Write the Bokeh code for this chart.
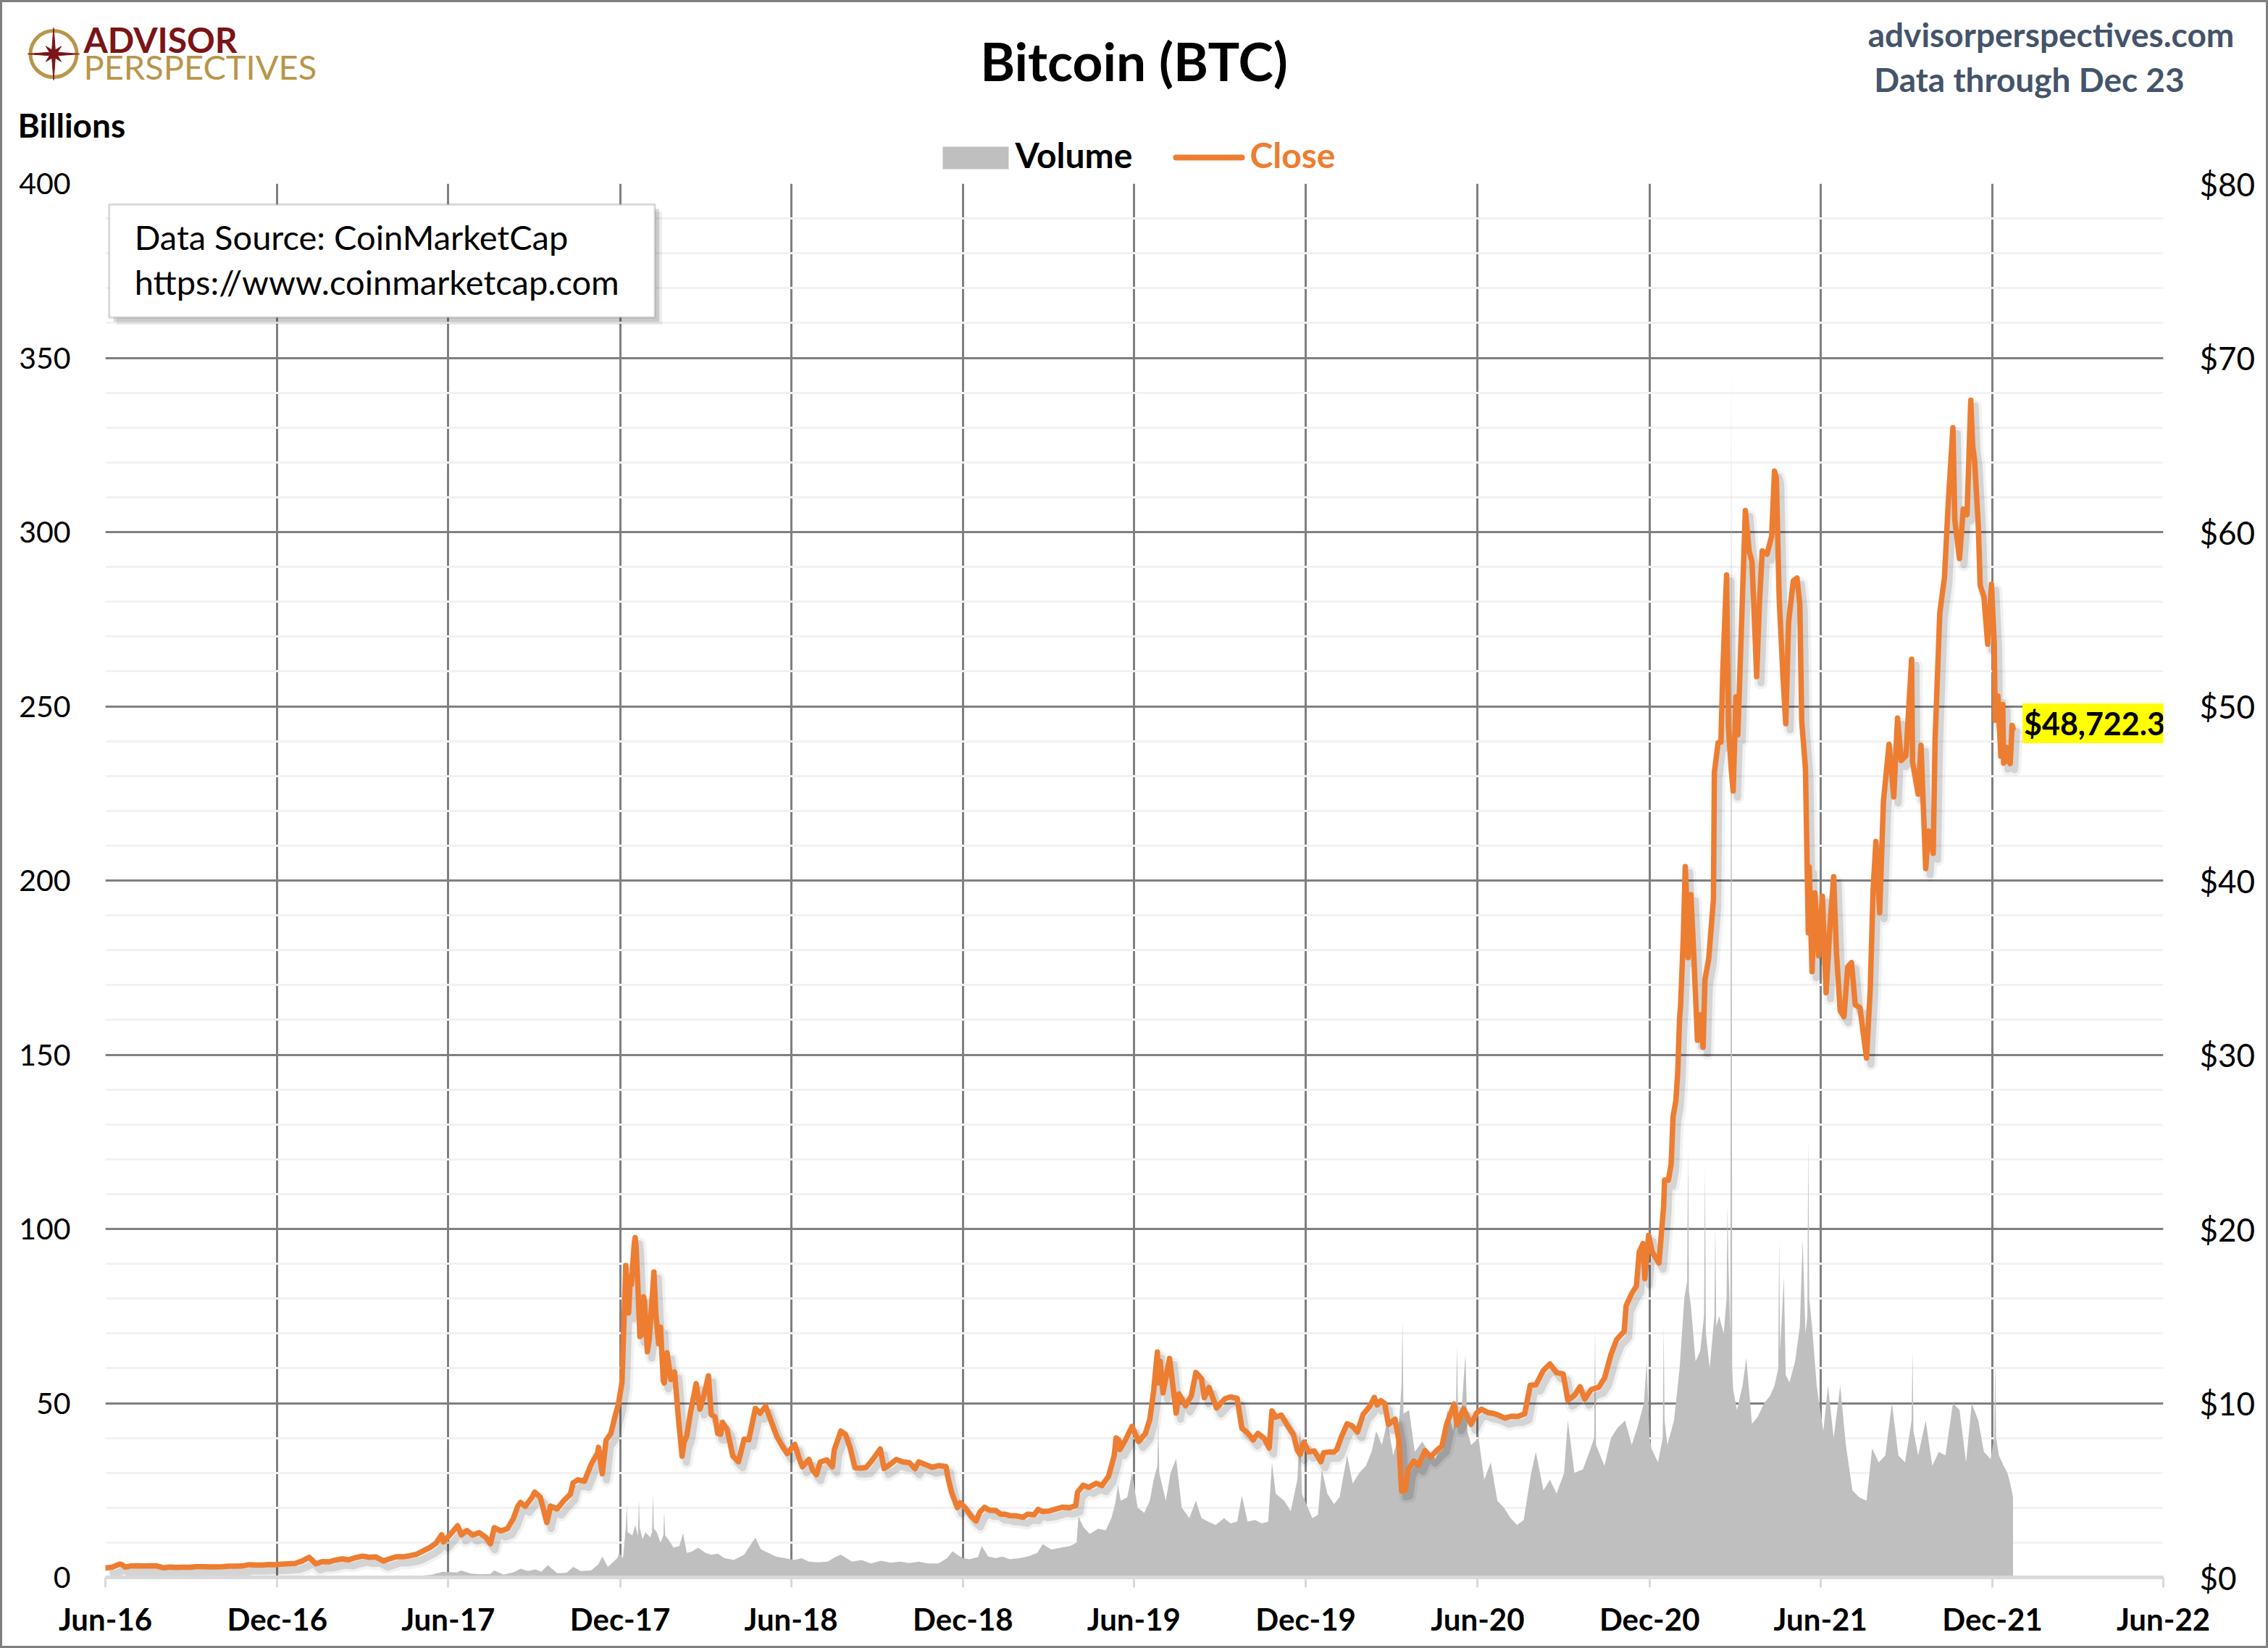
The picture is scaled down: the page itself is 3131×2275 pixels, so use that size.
import numpy as np
import pandas as pd
from bokeh.plotting import figure
from bokeh.models import (Range1d, LinearAxis, FixedTicker, SingleIntervalTicker,
                          PrintfTickFormatter, DatetimeTickFormatter, Label, BoxAnnotation)
from bokeh.embed import file_html
from bokeh.resources import INLINE
from bokeh.core.properties import value

# ---------------- data ----------------
tick_dates = ["2016-06-01", "2016-12-01", "2017-06-01", "2017-12-01", "2018-06-01",
              "2018-12-01", "2019-06-01", "2019-12-01", "2020-06-01", "2020-12-01",
              "2021-06-01", "2021-12-01", "2022-06-01"]
tick_labels = ["Jun-16", "Dec-16", "Jun-17", "Dec-17", "Jun-18", "Dec-18", "Jun-19",
               "Dec-19", "Jun-20", "Dec-20", "Jun-21", "Dec-21", "Jun-22"]

# Close price, thousands of US$
close_2016 = [("2016-06-01", 0.54), ("2016-06-08", 0.58), ("2016-06-12", 0.67), ("2016-06-16", 0.76),
              ("2016-06-18", 0.75), ("2016-06-22", 0.59), ("2016-06-28", 0.65), ("2016-07-05", 0.67),
              ("2016-07-12", 0.66), ("2016-07-19", 0.67), ("2016-07-26", 0.65), ("2016-08-02", 0.55),
              ("2016-08-09", 0.59), ("2016-08-16", 0.57), ("2016-08-23", 0.58), ("2016-08-30", 0.58),
              ("2016-09-06", 0.61), ("2016-09-13", 0.61), ("2016-09-20", 0.60), ("2016-09-27", 0.60),
              ("2016-10-04", 0.61), ("2016-10-11", 0.64), ("2016-10-18", 0.64), ("2016-10-25", 0.65),
              ("2016-11-01", 0.73), ("2016-11-08", 0.71), ("2016-11-15", 0.71), ("2016-11-22", 0.74),
              ("2016-11-29", 0.73), ("2016-12-06", 0.76), ("2016-12-13", 0.78), ("2016-12-20", 0.80),
              ("2016-12-27", 0.93)]
close_2017 = [("2017-01-04", 1.15), ("2017-01-11", 0.78), ("2017-01-18", 0.90), ("2017-01-25", 0.89),
              ("2017-02-01", 0.99), ("2017-02-08", 1.06), ("2017-02-15", 1.01), ("2017-02-22", 1.13),
              ("2017-03-02", 1.22), ("2017-03-09", 1.15), ("2017-03-16", 1.17), ("2017-03-24", 0.94),
              ("2017-03-31", 1.07), ("2017-04-07", 1.19), ("2017-04-14", 1.18), ("2017-04-21", 1.24),
              ("2017-04-28", 1.32), ("2017-05-05", 1.51), ("2017-05-12", 1.70), ("2017-05-19", 1.96),
              ("2017-05-25", 2.45), ("2017-05-27", 2.04), ("2017-06-04", 2.52), ("2017-06-11", 2.96),
              ("2017-06-15", 2.44), ("2017-06-21", 2.69), ("2017-06-27", 2.43), ("2017-07-04", 2.57),
              ("2017-07-11", 2.30), ("2017-07-16", 1.93), ("2017-07-20", 2.85), ("2017-07-27", 2.67),
              ("2017-08-03", 2.79), ("2017-08-09", 3.34), ("2017-08-14", 4.08), ("2017-08-17", 4.30),
              ("2017-08-22", 4.08), ("2017-08-29", 4.58), ("2017-09-01", 4.89), ("2017-09-07", 4.60),
              ("2017-09-14", 3.15), ("2017-09-18", 4.09), ("2017-09-25", 3.93), ("2017-10-02", 4.40),
              ("2017-10-09", 4.77), ("2017-10-12", 5.43), ("2017-10-17", 5.60), ("2017-10-24", 5.52),
              ("2017-10-31", 6.47), ("2017-11-07", 7.14), ("2017-11-08", 7.46), ("2017-11-12", 5.95),
              ("2017-11-16", 7.87), ("2017-11-21", 8.24), ("2017-11-26", 9.33), ("2017-11-29", 9.89),
              ("2017-12-03", 11.20), ("2017-12-07", 17.90), ("2017-12-08", 16.57), ("2017-12-10", 15.18),
              ("2017-12-12", 17.28), ("2017-12-13", 16.81), ("2017-12-16", 19.14), ("2017-12-17", 19.50),
              ("2017-12-18", 18.97), ("2017-12-20", 16.64), ("2017-12-22", 13.83), ("2017-12-24", 13.93),
              ("2017-12-26", 16.10), ("2017-12-27", 15.84), ("2017-12-30", 12.95)]
close_2018 = [("2018-01-01", 13.66), ("2018-01-06", 17.53), ("2018-01-08", 15.17), ("2018-01-11", 13.41),
              ("2018-01-13", 14.36), ("2018-01-16", 11.28), ("2018-01-17", 11.16), ("2018-01-20", 12.89),
              ("2018-01-24", 11.36), ("2018-01-28", 11.79), ("2018-02-01", 9.17), ("2018-02-05", 6.96),
              ("2018-02-07", 7.75), ("2018-02-10", 8.13), ("2018-02-14", 9.49), ("2018-02-20", 11.12),
              ("2018-02-24", 9.66), ("2018-02-28", 10.40), ("2018-03-05", 11.57), ("2018-03-08", 9.34),
              ("2018-03-12", 9.21), ("2018-03-15", 8.25), ("2018-03-18", 8.22), ("2018-03-20", 8.90),
              ("2018-03-25", 8.47), ("2018-03-31", 6.97), ("2018-04-06", 6.64), ("2018-04-12", 7.93),
              ("2018-04-17", 7.90), ("2018-04-24", 9.70), ("2018-04-29", 9.42), ("2018-05-05", 9.82),
              ("2018-05-10", 9.08), ("2018-05-17", 8.07), ("2018-05-23", 7.51), ("2018-05-28", 7.11),
              ("2018-06-05", 7.63), ("2018-06-10", 6.78), ("2018-06-13", 6.35), ("2018-06-20", 6.77),
              ("2018-06-24", 6.15), ("2018-06-28", 5.90), ("2018-07-02", 6.62), ("2018-07-09", 6.74),
              ("2018-07-15", 6.35), ("2018-07-17", 7.32), ("2018-07-24", 8.40), ("2018-07-29", 8.20),
              ("2018-08-03", 7.42), ("2018-08-08", 6.30), ("2018-08-14", 6.27), ("2018-08-20", 6.31),
              ("2018-08-26", 6.70), ("2018-09-04", 7.37), ("2018-09-08", 6.25), ("2018-09-15", 6.50),
              ("2018-09-21", 6.77), ("2018-09-28", 6.63), ("2018-10-05", 6.58), ("2018-10-11", 6.24),
              ("2018-10-15", 6.63), ("2018-10-22", 6.48), ("2018-10-29", 6.32), ("2018-11-05", 6.41),
              ("2018-11-13", 6.36), ("2018-11-15", 5.74), ("2018-11-19", 4.87), ("2018-11-25", 4.01),
              ("2018-11-28", 4.28), ("2018-12-04", 3.96), ("2018-12-10", 3.49), ("2018-12-15", 3.24),
              ("2018-12-19", 3.75), ("2018-12-24", 4.02), ("2018-12-29", 3.86)]
close_2019 = [("2019-01-05", 3.84), ("2019-01-10", 3.63), ("2019-01-15", 3.63), ("2019-01-20", 3.54),
              ("2019-01-27", 3.53), ("2019-02-03", 3.45), ("2019-02-08", 3.63), ("2019-02-15", 3.60),
              ("2019-02-19", 3.90), ("2019-02-24", 3.78), ("2019-03-03", 3.81), ("2019-03-10", 3.92),
              ("2019-03-17", 4.03), ("2019-03-24", 3.99), ("2019-03-31", 4.11), ("2019-04-02", 4.88),
              ("2019-04-08", 5.29), ("2019-04-14", 5.17), ("2019-04-22", 5.40), ("2019-04-28", 5.27),
              ("2019-05-05", 5.80), ("2019-05-11", 6.99), ("2019-05-13", 8.00), ("2019-05-16", 7.88),
              ("2019-05-17", 7.34), ("2019-05-23", 7.88), ("2019-05-30", 8.66), ("2019-06-06", 7.80),
              ("2019-06-13", 8.23), ("2019-06-18", 9.08), ("2019-06-22", 10.70), ("2019-06-26", 12.93),
              ("2019-06-27", 11.16), ("2019-06-29", 12.40), ("2019-07-02", 10.59), ("2019-07-09", 12.57),
              ("2019-07-16", 9.43), ("2019-07-19", 10.53), ("2019-07-26", 9.85), ("2019-08-01", 10.40),
              ("2019-08-06", 11.76), ("2019-08-12", 11.40), ("2019-08-15", 10.31), ("2019-08-20", 10.90),
              ("2019-08-28", 9.72), ("2019-09-06", 10.26), ("2019-09-12", 10.36), ("2019-09-19", 10.27),
              ("2019-09-24", 8.56), ("2019-09-30", 8.29), ("2019-10-06", 7.89), ("2019-10-11", 8.27),
              ("2019-10-18", 7.96), ("2019-10-23", 7.43), ("2019-10-26", 9.55), ("2019-10-30", 9.20),
              ("2019-11-05", 9.31), ("2019-11-11", 8.76), ("2019-11-18", 8.18), ("2019-11-22", 7.30),
              ("2019-11-25", 7.05), ("2019-11-29", 7.76), ("2019-12-04", 7.20), ("2019-12-10", 7.26),
              ("2019-12-17", 6.64), ("2019-12-20", 7.15), ("2019-12-26", 7.20), ("2019-12-31", 7.19)]
close_2020 = [("2020-01-03", 7.34), ("2020-01-08", 8.08), ("2020-01-14", 8.81), ("2020-01-19", 8.71),
              ("2020-01-25", 8.35), ("2020-01-31", 9.35), ("2020-02-07", 9.81), ("2020-02-12", 10.33),
              ("2020-02-15", 9.90), ("2020-02-19", 10.14), ("2020-02-23", 9.98), ("2020-02-27", 8.78),
              ("2020-03-05", 9.08), ("2020-03-09", 7.91), ("2020-03-12", 4.97), ("2020-03-16", 5.01),
              ("2020-03-19", 6.19), ("2020-03-25", 6.68), ("2020-03-30", 6.43), ("2020-04-06", 7.27),
              ("2020-04-12", 6.91), ("2020-04-18", 7.26), ("2020-04-24", 7.55), ("2020-04-29", 8.80),
              ("2020-05-07", 9.95), ("2020-05-10", 8.76), ("2020-05-17", 9.67), ("2020-05-25", 8.79),
              ("2020-05-31", 9.45), ("2020-06-05", 9.65), ("2020-06-12", 9.46), ("2020-06-18", 9.41),
              ("2020-06-24", 9.29), ("2020-06-30", 9.14), ("2020-07-07", 9.25), ("2020-07-14", 9.24),
              ("2020-07-21", 9.39), ("2020-07-27", 11.03), ("2020-08-02", 11.05), ("2020-08-10", 11.88),
              ("2020-08-17", 12.25), ("2020-08-24", 11.75), ("2020-08-31", 11.68), ("2020-09-05", 10.17),
              ("2020-09-12", 10.44), ("2020-09-18", 10.94), ("2020-09-23", 10.23), ("2020-09-30", 10.78),
              ("2020-10-08", 10.92), ("2020-10-14", 11.43), ("2020-10-21", 12.81), ("2020-10-27", 13.65),
              ("2020-11-04", 14.13), ("2020-11-06", 15.59), ("2020-11-12", 16.29), ("2020-11-17", 16.72),
              ("2020-11-20", 18.68), ("2020-11-24", 19.16), ("2020-11-26", 17.15), ("2020-11-30", 19.63),
              ("2020-12-04", 18.66), ("2020-12-11", 18.04), ("2020-12-16", 21.31), ("2020-12-17", 22.81),
              ("2020-12-21", 22.80), ("2020-12-24", 23.73), ("2020-12-26", 26.44), ("2020-12-29", 27.36),
              ("2020-12-31", 29.00)]
close_2021 = [("2021-01-02", 32.13), ("2021-01-03", 32.78), ("2021-01-06", 36.82), ("2021-01-08", 40.80),
              ("2021-01-10", 38.36), ("2021-01-11", 35.57), ("2021-01-14", 39.19), ("2021-01-17", 35.83),
              ("2021-01-21", 30.83), ("2021-01-24", 32.29), ("2021-01-27", 30.43), ("2021-01-29", 34.32),
              ("2021-02-02", 35.51), ("2021-02-07", 38.90), ("2021-02-08", 46.20), ("2021-02-12", 47.91),
              ("2021-02-15", 47.94), ("2021-02-17", 52.03), ("2021-02-21", 57.54), ("2021-02-23", 48.82),
              ("2021-02-26", 46.34), ("2021-02-28", 45.14), ("2021-03-03", 50.54), ("2021-03-05", 48.37),
              ("2021-03-09", 54.82), ("2021-03-13", 61.24), ("2021-03-17", 58.91), ("2021-03-20", 58.33),
              ("2021-03-23", 54.53), ("2021-03-25", 51.70), ("2021-03-28", 55.95), ("2021-03-31", 58.92),
              ("2021-04-05", 58.73), ("2021-04-10", 59.77), ("2021-04-13", 63.50), ("2021-04-15", 63.11),
              ("2021-04-18", 56.22), ("2021-04-22", 51.76), ("2021-04-25", 49.00), ("2021-04-28", 54.82),
              ("2021-05-03", 57.20), ("2021-05-07", 57.36), ("2021-05-10", 55.86), ("2021-05-12", 49.15),
              ("2021-05-16", 46.42), ("2021-05-19", 37.00), ("2021-05-20", 40.78), ("2021-05-23", 34.77),
              ("2021-05-26", 39.29), ("2021-05-30", 35.68), ("2021-06-03", 39.10), ("2021-06-07", 33.56),
              ("2021-06-11", 37.33), ("2021-06-15", 40.22), ("2021-06-18", 35.84), ("2021-06-22", 32.51),
              ("2021-06-26", 32.19), ("2021-06-30", 35.04), ("2021-07-04", 35.29), ("2021-07-08", 32.86),
              ("2021-07-13", 32.70), ("2021-07-20", 29.81), ("2021-07-24", 33.82), ("2021-07-27", 39.46),
              ("2021-07-30", 42.24), ("2021-08-03", 38.15), ("2021-08-07", 44.56), ("2021-08-13", 47.82),
              ("2021-08-18", 44.80), ("2021-08-22", 49.32), ("2021-08-26", 46.89), ("2021-08-31", 47.17),
              ("2021-09-06", 52.70), ("2021-09-07", 46.81), ("2021-09-13", 44.96), ("2021-09-16", 47.76),
              ("2021-09-21", 40.69), ("2021-09-24", 42.84), ("2021-09-29", 41.56), ("2021-10-01", 48.12),
              ("2021-10-06", 55.36), ("2021-10-11", 57.40), ("2021-10-15", 61.67), ("2021-10-20", 65.99),
              ("2021-10-22", 60.69), ("2021-10-27", 58.48), ("2021-10-31", 61.32), ("2021-11-04", 61.00),
              ("2021-11-08", 67.57), ("2021-11-10", 64.95), ("2021-11-12", 64.16), ("2021-11-16", 60.35),
              ("2021-11-18", 56.94), ("2021-11-22", 56.29), ("2021-11-26", 53.57), ("2021-11-30", 57.01),
              ("2021-12-03", 53.60), ("2021-12-04", 49.20), ("2021-12-07", 50.58), ("2021-12-10", 47.13),
              ("2021-12-12", 50.10), ("2021-12-13", 46.74), ("2021-12-16", 47.64), ("2021-12-18", 46.85),
              ("2021-12-20", 46.71), ("2021-12-22", 48.91), ("2021-12-23", 48.7223)]

# Volume, billions of US$
vol_2016 = [("2016-06-01", 0.1), ("2016-06-16", 0.3), ("2016-07-01", 0.1), ("2016-07-20", 0.1),
            ("2016-08-02", 0.2), ("2016-08-15", 0.1), ("2016-09-15", 0.1), ("2016-10-15", 0.1),
            ("2016-11-10", 0.15), ("2016-12-01", 0.1), ("2016-12-20", 0.15), ("2016-12-31", 0.2)]
vol_2017 = [("2017-01-05", 0.5), ("2017-01-15", 0.2), ("2017-02-10", 0.15), ("2017-03-10", 0.3),
            ("2017-04-10", 0.3), ("2017-05-01", 0.4), ("2017-05-15", 0.8), ("2017-05-26", 1.6),
            ("2017-06-10", 1.4), ("2017-06-15", 2.0), ("2017-06-25", 1.1), ("2017-07-05", 0.9),
            ("2017-07-16", 1.0), ("2017-07-20", 2.0), ("2017-07-30", 0.8), ("2017-08-10", 1.5),
            ("2017-08-17", 2.5), ("2017-08-25", 1.8), ("2017-09-02", 2.3), ("2017-09-08", 1.6),
            ("2017-09-15", 3.5), ("2017-09-25", 1.2), ("2017-10-05", 1.3), ("2017-10-12", 3.0),
            ("2017-10-20", 1.8), ("2017-10-31", 2.0), ("2017-11-08", 3.8), ("2017-11-12", 6.0),
            ("2017-11-18", 3.0), ("2017-11-28", 5.5), ("2017-11-30", 7.0), ("2017-12-04", 5.5),
            ("2017-12-07", 14.0), ("2017-12-08", 21.0), ("2017-12-09", 13.0), ("2017-12-14", 12.0),
            ("2017-12-17", 15.0), ("2017-12-20", 12.0), ("2017-12-21", 22.4), ("2017-12-22", 14.0),
            ("2017-12-25", 11.0), ("2017-12-28", 13.0)]
vol_2018 = [("2018-01-02", 11.5), ("2018-01-04", 13.0), ("2018-01-05", 24.1), ("2018-01-06", 14.0),
            ("2018-01-09", 13.0), ("2018-01-13", 10.0), ("2018-01-16", 12.0), ("2018-01-17", 18.8),
            ("2018-01-18", 12.0), ("2018-01-21", 11.0), ("2018-01-27", 8.5), ("2018-02-02", 9.0),
            ("2018-02-06", 12.7), ("2018-02-10", 7.0), ("2018-02-16", 7.5), ("2018-02-22", 8.5),
            ("2018-03-02", 7.0), ("2018-03-08", 6.5), ("2018-03-15", 6.8), ("2018-03-22", 5.5),
            ("2018-04-01", 5.0), ("2018-04-12", 6.5), ("2018-04-18", 9.0), ("2018-04-24", 11.4),
            ("2018-04-30", 8.0), ("2018-05-08", 7.0), ("2018-05-16", 6.0), ("2018-05-25", 5.5),
            ("2018-06-05", 5.0), ("2018-06-12", 5.5), ("2018-06-20", 4.5), ("2018-06-30", 4.3),
            ("2018-07-10", 4.5), ("2018-07-18", 5.8), ("2018-07-24", 6.5), ("2018-08-05", 4.5),
            ("2018-08-15", 5.0), ("2018-08-25", 4.0), ("2018-09-05", 4.8), ("2018-09-15", 4.2),
            ("2018-09-25", 4.5), ("2018-10-05", 4.1), ("2018-10-15", 4.5), ("2018-10-25", 4.0),
            ("2018-11-05", 4.0), ("2018-11-14", 5.5), ("2018-11-20", 7.5), ("2018-11-25", 6.5),
            ("2018-12-01", 5.5), ("2018-12-08", 5.2), ("2018-12-17", 5.8), ("2018-12-21", 9.0),
            ("2018-12-28", 6.0)]
vol_2019 = [("2019-01-05", 5.5), ("2019-01-12", 6.0), ("2019-01-20", 5.2), ("2019-01-30", 5.5),
            ("2019-02-08", 6.0), ("2019-02-18", 7.0), ("2019-02-24", 9.5), ("2019-03-05", 8.0),
            ("2019-03-15", 8.5), ("2019-03-25", 9.0), ("2019-04-01", 10.0), ("2019-04-03", 17.5),
            ("2019-04-08", 14.5), ("2019-04-15", 12.5), ("2019-04-24", 14.0), ("2019-05-02", 13.5),
            ("2019-05-08", 17.0), ("2019-05-12", 21.0), ("2019-05-15", 26.5), ("2019-05-18", 22.0),
            ("2019-05-25", 23.0), ("2019-05-30", 30.0), ("2019-06-05", 20.0), ("2019-06-12", 18.5),
            ("2019-06-18", 22.0), ("2019-06-22", 28.0), ("2019-06-26", 32.0), ("2019-06-27", 45.0),
            ("2019-06-28", 30.0), ("2019-07-05", 22.0), ("2019-07-10", 30.0), ("2019-07-16", 34.0),
            ("2019-07-22", 20.0), ("2019-07-30", 17.0), ("2019-08-06", 22.0), ("2019-08-12", 17.0),
            ("2019-08-19", 16.0), ("2019-08-27", 15.0), ("2019-09-05", 17.0), ("2019-09-12", 15.5),
            ("2019-09-19", 16.0), ("2019-09-24", 23.5), ("2019-09-30", 16.0), ("2019-10-08", 16.5),
            ("2019-10-15", 15.5), ("2019-10-22", 16.0), ("2019-10-26", 33.0), ("2019-10-30", 24.0),
            ("2019-11-08", 22.0), ("2019-11-15", 19.0), ("2019-11-22", 28.0), ("2019-11-25", 43.0),
            ("2019-11-27", 24.0), ("2019-12-08", 17.0), ("2019-12-14", 18.0), ("2019-12-18", 31.0),
            ("2019-12-24", 24.0), ("2019-12-31", 21.0)]
vol_2020 = [("2020-01-06", 23.0), ("2020-01-14", 35.0), ("2020-01-20", 27.0), ("2020-01-27", 30.0),
            ("2020-02-03", 32.0), ("2020-02-09", 36.0), ("2020-02-14", 42.0), ("2020-02-20", 38.0),
            ("2020-02-26", 45.0), ("2020-03-03", 35.0), ("2020-03-08", 40.0), ("2020-03-12", 55.0),
            ("2020-03-13", 74.0), ("2020-03-14", 47.0), ("2020-03-20", 48.0), ("2020-03-26", 36.0),
            ("2020-04-03", 39.0), ("2020-04-10", 36.0), ("2020-04-17", 34.0), ("2020-04-23", 38.0),
            ("2020-04-30", 48.0), ("2020-05-06", 42.0), ("2020-05-09", 50.0), ("2020-05-10", 67.0),
            ("2020-05-11", 48.0), ("2020-05-14", 45.0), ("2020-05-19", 64.0), ("2020-05-21", 42.0),
            ("2020-05-25", 38.0), ("2020-06-02", 40.0), ("2020-06-08", 28.0), ("2020-06-15", 33.0),
            ("2020-06-22", 22.0), ("2020-06-29", 20.0), ("2020-07-06", 17.0), ("2020-07-13", 15.0),
            ("2020-07-20", 16.5), ("2020-07-28", 30.0), ("2020-08-02", 36.0), ("2020-08-10", 25.0),
            ("2020-08-17", 28.0), ("2020-08-24", 24.0), ("2020-09-01", 30.0), ("2020-09-05", 45.0),
            ("2020-09-12", 30.0), ("2020-09-21", 31.0), ("2020-09-28", 36.0), ("2020-10-03", 40.0),
            ("2020-10-04", 72.0), ("2020-10-05", 38.0), ("2020-10-14", 32.0), ("2020-10-21", 40.0),
            ("2020-10-28", 43.0), ("2020-11-05", 45.0), ("2020-11-12", 38.0), ("2020-11-18", 43.0),
            ("2020-11-25", 50.0), ("2020-11-28", 62.0), ("2020-12-01", 40.0), ("2020-12-03", 37.0),
            ("2020-12-10", 33.0), ("2020-12-15", 40.0), ("2020-12-16", 72.0), ("2020-12-17", 45.0),
            ("2020-12-20", 38.0), ("2020-12-27", 45.0)]
vol_2021 = [("2021-01-02", 60.0), ("2021-01-07", 80.0), ("2021-01-10", 85.0), ("2021-01-11", 123.0),
            ("2021-01-12", 82.0), ("2021-01-14", 78.0), ("2021-01-19", 62.0), ("2021-01-24", 65.0),
            ("2021-01-28", 75.0), ("2021-01-29", 118.0), ("2021-01-30", 70.0), ("2021-02-03", 60.0),
            ("2021-02-08", 75.0), ("2021-02-09", 101.0), ("2021-02-10", 72.0), ("2021-02-13", 75.0),
            ("2021-02-18", 70.0), ("2021-02-21", 80.0), ("2021-02-22", 107.0), ("2021-02-23", 90.0),
            ("2021-02-25", 70.0), ("2021-02-26", 351.0), ("2021-02-27", 60.0), ("2021-02-28", 54.0),
            ("2021-03-04", 48.0), ("2021-03-10", 55.0), ("2021-03-14", 63.0), ("2021-03-20", 44.0),
            ("2021-03-26", 46.0), ("2021-04-02", 50.0), ("2021-04-08", 52.0), ("2021-04-13", 55.0),
            ("2021-04-17", 60.0), ("2021-04-18", 97.0), ("2021-04-19", 65.0), ("2021-04-23", 86.0),
            ("2021-04-25", 58.0), ("2021-04-29", 56.0), ("2021-05-05", 62.0), ("2021-05-10", 72.0),
            ("2021-05-13", 97.0), ("2021-05-16", 70.0), ("2021-05-18", 75.0), ("2021-05-19", 126.0),
            ("2021-05-20", 80.0), ("2021-05-23", 72.0), ("2021-05-28", 55.0), ("2021-06-04", 42.0),
            ("2021-06-09", 55.0), ("2021-06-15", 40.0), ("2021-06-22", 55.0), ("2021-06-28", 38.0),
            ("2021-07-05", 25.0), ("2021-07-12", 23.0), ("2021-07-20", 22.0), ("2021-07-26", 37.0),
            ("2021-08-02", 33.0), ("2021-08-09", 35.0), ("2021-08-16", 50.0), ("2021-08-23", 35.0),
            ("2021-08-30", 33.0), ("2021-09-06", 45.0), ("2021-09-07", 65.0), ("2021-09-08", 42.0),
            ("2021-09-13", 35.0), ("2021-09-21", 45.0), ("2021-09-28", 32.0), ("2021-10-05", 36.0),
            ("2021-10-12", 35.0), ("2021-10-20", 50.0), ("2021-10-27", 48.0), ("2021-11-03", 33.0),
            ("2021-11-09", 50.0), ("2021-11-16", 45.0), ("2021-11-22", 36.0), ("2021-11-29", 34.0),
            ("2021-12-03", 40.0), ("2021-12-04", 62.0), ("2021-12-05", 40.0), ("2021-12-08", 35.0),
            ("2021-12-13", 32.0), ("2021-12-17", 30.0), ("2021-12-20", 27.0), ("2021-12-23", 23.0)]

# ---------------- build columns ----------------
close_pts = close_2016 + close_2017 + close_2018 + close_2019 + close_2020 + close_2021
vol_pts = vol_2016 + vol_2017 + vol_2018 + vol_2019 + vol_2020 + vol_2021
cx = pd.to_datetime([d for d, _ in close_pts])
cy = np.array([v for _, v in close_pts])
vx = pd.to_datetime([d for d, _ in vol_pts])
vy = np.array([v for _, v in vol_pts])

tick_ms = [int(pd.Timestamp(d).value // 10**6) for d in tick_dates]

FONT = "Lato"
ORANGE = "#ED7D31"
GRAYFILL = "#BFBFBF"
GRID = "#808080"
SLATE = "#44546A"
BASE_SHIFT = 0.4   # renderer places alphabetic baselines ~0.4em low; compensate

W = 3131
H_TOTAL = 2275
H_HEAD = 246

# ---------------- header: transparent overlay on top of the main plot ----------------
h = figure(width=W, height=H_HEAD, x_range=Range1d(0, W), y_range=Range1d(H_HEAD, 0),
           x_axis_location=None, y_axis_location=None, toolbar_location=None,
           output_backend="svg", min_border_left=0, min_border_right=0,
           min_border_top=0, min_border_bottom=0)
h.grid.visible = False
h.outline_line_color = None
h.background_fill_color = None
h.border_fill_color = None
h.styles = {"position": "absolute", "top": "0px", "left": "0px", "z-index": "2"}

lx, ly = 73.5, 74
h.circle(x=[lx], y=[ly], radius=32, fill_color=None, line_color="#B8964A", line_width=5)
ang = np.deg2rad(np.arange(0, 360, 22.5))
rad = np.array([36 if i % 4 == 0 else (15 if i % 4 == 2 else 6) for i in range(16)])
h.patch(lx + rad * np.cos(ang), ly - rad * np.sin(ang), fill_color="#7B1416", line_color="#7B1416")


def htext(x, baseline, t, size, color="#000000", bold=True, align="left"):
    h.text(x=[x], y=[baseline - BASE_SHIFT * size], text=[t], text_font=value(FONT),
           text_font_size=f"{size}px", text_font_style="bold" if bold else "normal",
           text_color=color, text_align=align, text_baseline="alphabetic")


htext(115, 73, "ADVISOR", 48, "#7B1416")
htext(115, 110, "PERSPECTIVES", 47, "#B8964A", bold=False)
htext(1565, 113, "Bitcoin (BTC)", 73, align="center")
htext(2831, 65, "advisorperspectives.com", 46, SLATE, align="center")
htext(2801, 127, "Data through Dec 23", 46, SLATE, align="center")
htext(24, 190, "Billions", 46)

# legend
h.quad(left=[1301], right=[1392], top=[202], bottom=[233], fill_color=GRAYFILL, line_color=None)
htext(1401, 232, "Volume", 48)
h.line([1623, 1714], [217, 217], line_color=ORANGE, line_width=8, line_cap="round")
htext(1725, 232, "Close", 48, ORANGE)

# ---------------- main plot (whole canvas) ----------------
p = figure(width=W, height=H_TOTAL, x_axis_type="datetime",
           x_range=Range1d(pd.Timestamp(tick_dates[0]), pd.Timestamp(tick_dates[-1])),
           y_range=Range1d(0, 400), output_backend="svg", toolbar_location=None,
           min_border_left=145, min_border_right=145, min_border_top=253, min_border_bottom=98)
p.outline_line_color = None
p.border_fill_color = None
p.styles = {"background-color": "white",
            "box-shadow": ("inset 3px 0 0 #808080, inset -3px 0 0 #808080, "
                           "inset 0 -3px 0 #808080, inset 0 3px 0 #808080")}
p.extra_y_ranges = {"price": Range1d(0, 80)}

xa = p.xaxis[0]
xa.ticker = FixedTicker(ticks=tick_ms, minor_ticks=[])
xa.formatter = DatetimeTickFormatter(days="%b-%y", months="%b-%y", years="%b-%y")
xa.major_label_overrides = dict(zip(tick_ms, tick_labels))
xa.axis_line_color = "#D9D9D9"
xa.axis_line_width = 5
xa.major_tick_line_color = "#D9D9D9"
xa.major_tick_line_width = 3
xa.major_tick_in = 0
xa.major_tick_out = 14
xa.minor_tick_line_color = None
xa.major_label_text_font = FONT
xa.major_label_text_font_size = "42px"
xa.major_label_text_font_style = "bold"
xa.major_label_text_color = "#000000"
xa.major_label_standoff = 18

ya = p.yaxis[0]
ya.ticker = SingleIntervalTicker(interval=50, num_minor_ticks=5)
ya.axis_line_color = None
ya.major_tick_line_color = None
ya.minor_tick_line_color = None
ya.major_tick_out = 0
ya.major_label_text_font = FONT
ya.major_label_text_font_size = "41px"
ya.major_label_text_color = "#000000"
ya.major_label_standoff = 44

ra = LinearAxis(y_range_name="price", ticker=SingleIntervalTicker(interval=10, num_minor_ticks=0),
                formatter=PrintfTickFormatter(format="$%d"))
ra.axis_line_color = None
ra.major_tick_line_color = None
ra.minor_tick_line_color = None
ra.major_tick_out = 0
ra.major_label_text_font = FONT
ra.major_label_text_font_size = "44px"
ra.major_label_text_color = "#000000"
ra.major_label_standoff = 50
p.add_layout(ra, "right")

p.xgrid.grid_line_color = GRID
p.xgrid.grid_line_width = 3
p.ygrid.grid_line_color = GRID
p.ygrid.grid_line_width = 3
p.ygrid.minor_grid_line_color = "#F2F2F2"
p.ygrid.minor_grid_line_width = 3

# volume area
p.varea(x=vx, y1=0, y2=vy, fill_color=GRAYFILL)

# close line with soft shadow
shift = pd.Timedelta(days=4.6)
p.line(cx + shift, cy - 0.35, y_range_name="price", line_color="#000000", line_alpha=0.05,
       line_width=18, line_join="round")
p.line(cx + shift, cy - 0.35, y_range_name="price", line_color="#000000", line_alpha=0.12,
       line_width=10, line_join="round")
p.line(cx, cy, y_range_name="price", line_color=ORANGE, line_width=7.5, line_join="round",
       line_cap="round")


def ms(d):
    return pd.Timestamp(d).value / 1e6


# last value label (kept inside the frame)
last_x = cx[-1]
last_y = cy[-1]
p.add_layout(Label(x=ms(last_x + pd.Timedelta(days=10)), y=last_y + 0.3, y_range_name="price",
                   text=f"${last_y * 1000:,.1f}", text_font=FONT, text_font_size="43px",
                   text_font_style="bold", text_color="#000000", text_baseline="middle",
                   text_align="left", background_fill_color="#FFFF00", padding=2))

# data source box with shadow
for off, alpha in ((10, 0.07), (6, 0.14)):
    p.add_layout(BoxAnnotation(left=ms("2016-06-05") + off * 86400000 * 0.77,
                               right=ms("2018-01-07") + off * 86400000 * 0.77,
                               top=394 - off / 4.81, bottom=361.6 - off / 4.81,
                               fill_color="#000000", fill_alpha=alpha, line_color=None))
p.add_layout(BoxAnnotation(left=ms("2016-06-05"), right=ms("2018-01-07"), top=394, bottom=361.6,
                           fill_color="#FFFFFF", fill_alpha=1.0, line_color=GRID, line_width=3))
p.add_layout(Label(x=ms("2016-07-02"), y=384.8, text="Data Source: CoinMarketCap", text_font=FONT,
                   text_font_size="47px", text_color="#000000", text_baseline="alphabetic"))
p.add_layout(Label(x=ms("2016-07-02"), y=371.9, text="https://www.coinmarketcap.com", text_font=FONT,
                   text_font_size="47px", text_color="#000000", text_baseline="alphabetic"))

with open("out.html", "w") as f:
    f.write(file_html([h, p], INLINE, "Bitcoin (BTC)"))
